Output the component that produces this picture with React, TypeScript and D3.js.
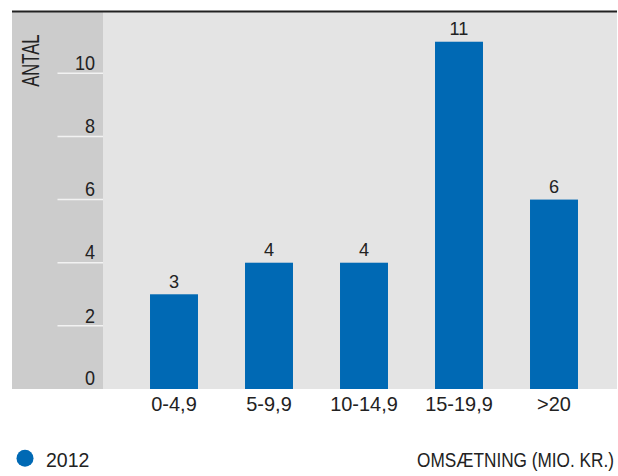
import React from "react";
import * as d3 from "d3";

const categories = ["0-4,9", "5-9,9", "10-14,9", "15-19,9", ">20"];
const values = [3, 4, 4, 11, 6];
const yTicks = [0, 2, 4, 6, 8, 10];
const seriesName = "2012";
const yTitle = "ANTAL";
const xTitle = "OMSÆTNING (MIO. KR.)";

const W = 618;
const H = 476;
const FONT = "'Liberation Sans', Arial, sans-serif";
const BLUE = "#0069b4";
const INK = "#222";

function T({
  x,
  y,
  anchor = "start",
  size,
  sx = 0.9,
  rotate = 0,
  children,
}: {
  x: number;
  y: number;
  anchor?: "start" | "middle" | "end";
  size: number;
  sx?: number;
  rotate?: number;
  children: React.ReactNode;
}) {
  return (
    <g transform={`translate(${x},${y}) rotate(${rotate}) scale(${sx},1)`}>
      <text x={0} y={0} textAnchor={anchor} fontFamily={FONT} fontSize={size} fill={INK}>
        {children}
      </text>
    </g>
  );
}

export default function App() {
  const y = d3.scaleLinear().domain([0, 10]).range([389, 73.3]);
  const x = d3
    .scaleBand<string>()
    .domain(categories)
    .range([126.5, 601.5])
    .paddingInner(0.495)
    .paddingOuter(0.2475);

  return (
    <svg
      width={W}
      height={H}
      style={{ position: "absolute", left: 0, top: 0, background: "#fff" }}
    >
      {/* backgrounds */}
      <rect x={12} y={11} width={91} height={378} fill="#cccccc" />
      <rect x={103} y={11} width={514} height={378} fill="#e4e4e4" />
      <line x1={12} x2={617} y1={11.5} y2={11.5} stroke="#222" strokeWidth={2} />

      {/* y ticks */}
      {yTicks.map((t) => (
        <g key={t}>
          {t > 0 && (
            <line x1={57.5} x2={103} y1={y(t)} y2={y(t)} stroke="#f2f2f2" strokeWidth={1.5} />
          )}
          <T x={95} y={t > 0 ? y(t) - 3.3 : 385} anchor="end" size={20.5} sx={0.88}>
            {t}
          </T>
        </g>
      ))}

      <T x={39.3} y={86.7} size={23} sx={0.72} rotate={-90}>
        {yTitle}
      </T>

      {/* bars */}
      {values.map((v, i) => {
        const c = categories[i];
        const bx = x(c)!;
        const cx = bx + x.bandwidth() / 2;
        return (
          <g key={c}>
            <rect x={bx} y={y(v)} width={x.bandwidth()} height={y(0) - y(v)} fill={BLUE} />
            <T x={cx} y={y(v) - 6.7} anchor="middle" size={18.5} sx={0.98}>
              {v}
            </T>
            <T x={cx} y={411.2} anchor="middle" size={21} sx={0.95}>
              {c}
            </T>
          </g>
        );
      })}

      {/* legend */}
      <circle cx={25} cy={458.3} r={8.5} fill={BLUE} />
      <T x={46} y={466.7} size={21} sx={0.93}>
        {seriesName}
      </T>
      <T x={614} y={466.7} anchor="end" size={20.5} sx={0.84}>
        {xTitle}
      </T>
    </svg>
  );
}
